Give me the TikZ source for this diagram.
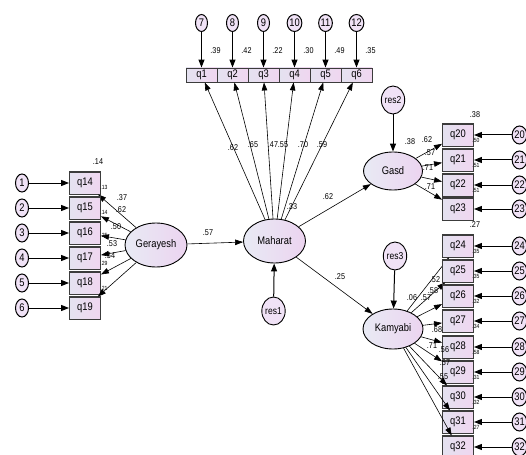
\documentclass[tikz,border=0pt]{standalone}
\usepackage{fontspec}
\setmainfont{Liberation Sans}[FakeStretch=0.85]
\usetikzlibrary{arrows.meta,shapes.geometric}
\definecolor{latL}{RGB}{232,234,244}
\definecolor{latR}{RGB}{236,212,240}
\definecolor{obsL}{RGB}{228,226,240}
\definecolor{obsR}{RGB}{240,214,240}
\definecolor{errfill}{RGB}{240,226,246}
\definecolor{obsline}{RGB}{60,60,60}
\begin{document}
\begin{tikzpicture}[x=1pt,y=-1pt,
  lat/.style={ellipse, draw=black, line width=0.9pt, left color=latL, right color=latR, inner sep=0pt, minimum width=62pt, minimum height=44pt, font=\fontsize{11}{11}\selectfont},
  obs/.style={rectangle, draw=obsline, line width=0.9pt, left color=obsL, right color=obsR, inner sep=0pt, minimum width=31pt, minimum height=22pt, font=\fontsize{11}{11}\selectfont},
  err/.style={ellipse, draw=black, line width=1pt, fill=errfill, inner sep=0pt, minimum width=13pt, minimum height=18pt, font=\fontsize{11}{11}\selectfont},
  resid/.style={ellipse, draw=black, line width=0.9pt, fill=errfill, inner sep=0pt, minimum width=20pt, minimum height=28pt, font=\fontsize{10}{10}\selectfont},
  pth/.style={-{Triangle[length=8pt,width=5.5pt]}, line width=0.6pt},
  errarr/.style={-{Triangle[length=8pt,width=6pt]}, line width=1pt},
  lab/.style={font=\fontsize{8.5}{8.5}\selectfont, inner sep=0pt},
  tiny/.style={font=\fontsize{6}{6}\selectfont, inner sep=0pt},
  topedge/.style={line width=1.8pt, draw=obsline}
]
\useasboundingbox (0,0) rectangle (526,454);
\clip (0,0) rectangle (526,454);
\fill[white] (0,0) rectangle (526,454);

% latent variables
\node[lat] (gerayesh) at (156,245) {Gerayesh};
\node[lat] (maharat) at (274.5,241) {Maharat};
\node[lat, minimum width=59pt, minimum height=38pt] (gasd) at (393,171) {Gasd};
\node[lat, minimum width=60pt, minimum height=40pt] (kamyabi) at (393,329) {Kamyabi};
\node[resid, minimum width=18pt] (res1) at (273.5,311) {res1};
\node[resid] (res2) at (393,100) {res2};
\node[resid] (res3) at (395,256) {res3};

% top indicators
\foreach \i/\x/\e/\r in {1/201.5/7/.39, 2/232.5/8/.42, 3/263.5/9/.22, 4/294.5/10/.30, 5/325.5/11/.49, 6/356.5/12/.35} {
  \node[obs, minimum height=14pt] (q\i) at (\x,75) {q\i};
  \node[err, minimum width=12pt, minimum height=17pt] (e\e) at (\x,23) {\e};
  \draw[errarr] (e\e) -- (q\i);
  \node[lab] at (\x+14,51) {\r};
  \draw[pth] (maharat) -- (q\i);
}

% left indicators
\foreach \i/\y/\e in {14/183/1, 15/208/2, 16/233/3, 17/258/4, 18/283/5, 19/308/6} {
  \node[obs] (q\i) at (85,\y) {q\i};
  \draw[topedge] (q\i.north west) -- (q\i.north east);
  \node[err] (e\e) at (22,\y) {\e};
  \draw[errarr] (e\e) -- (q\i);
  \draw[pth] (gerayesh) -- (q\i);
}

% Gasd indicators
\foreach \i/\y in {20/135, 21/160, 22/185, 23/209} {
  \node[obs] (q\i) at (458,\y) {q\i};
  \draw[topedge] (q\i.north west) -- (q\i.north east);
  \node[err] (e\i) at (519.5,\y) {\i};
  \draw[errarr] (e\i) -- (q\i);
  \draw[pth] (gasd) -- (q\i);
}

% Kamyabi indicators
\foreach \i/\y in {24/246, 25/271, 26/296, 27/321, 28/347, 29/372, 30/397, 31/422, 32/447} {
  \node[obs] (q\i) at (458,\y) {q\i};
  \draw[topedge] (q\i.north west) -- (q\i.north east);
  \node[err] (e\i) at (519.5,\y) {\i};
  \draw[errarr] (e\i) -- (q\i);
  \draw[pth] (kamyabi) -- (q\i);
}

% structural paths
\draw[pth] (gerayesh) -- (maharat);
\draw[pth] (maharat) -- (gasd);
\draw[pth] (maharat) -- (kamyabi);
\draw[errarr] (res1) -- (maharat);
\draw[errarr] (res2) -- (gasd);
\draw[errarr] (res3) -- (kamyabi);

% structural labels
\node[lab] at (208,233) {.57};
\node[lab] at (328,197) {.62};
\node[lab] at (340,277) {.25};
\node[lab] at (292,207) {.33};

% top loadings
\node[lab] at (233,148) {.62};
\node[lab] at (253,145) {.65};
\node[lab] at (273,145) {.47};
\node[lab] at (283,145) {.55};
\node[lab] at (303,145) {.70};
\node[lab] at (322,145) {.59};

% left labels
\node[lab] at (98,162) {.14};
\node[lab] at (122,198) {.37};
\node[lab] at (121,210) {.62};
\node[lab] at (116,227) {.50};
\node[lab] at (112,244) {.53};
\node[lab] at (110,256) {.54};
\node[tiny] at (104,187) {.13};
\node[tiny] at (104,212) {.14};
\node[tiny] at (104,235) {.25};
\node[tiny] at (104,263) {.29};
\node[tiny] at (104,288) {.21};

% Gasd labels
\node[lab] at (410,142) {.38};
\node[lab] at (427,140) {.62};
\node[lab] at (430,153) {.57};
\node[lab] at (428,168) {.71};
\node[lab] at (430,187) {.71};
\node[lab] at (475,115) {.38};
\node[lab] at (475,225) {.27};
\node[tiny] at (476,140) {.50};
\node[tiny] at (476,165) {.51};
\node[tiny] at (476,190) {.51};

% Kamyabi labels
\node[lab] at (412,298) {.06};
\node[lab] at (435,280) {.52};
\node[lab] at (426,298) {.57};
\node[lab] at (433,291) {.58};
\node[lab] at (437,330) {.68};
\node[lab] at (432,346) {.71};
\node[lab] at (444,350) {.56};
\node[lab] at (445,363) {.57};
\node[lab] at (443,377) {.55};
\node[tiny] at (476,251) {.35};
\node[tiny] at (476,276) {.35};
\node[tiny] at (476,301) {.32};
\node[tiny] at (476,326) {.34};
\node[tiny] at (476,352) {.58};
\node[tiny] at (476,377) {.31};
\node[tiny] at (476,402) {.32};
\node[tiny] at (476,427) {.27};
\end{tikzpicture}
\end{document}
